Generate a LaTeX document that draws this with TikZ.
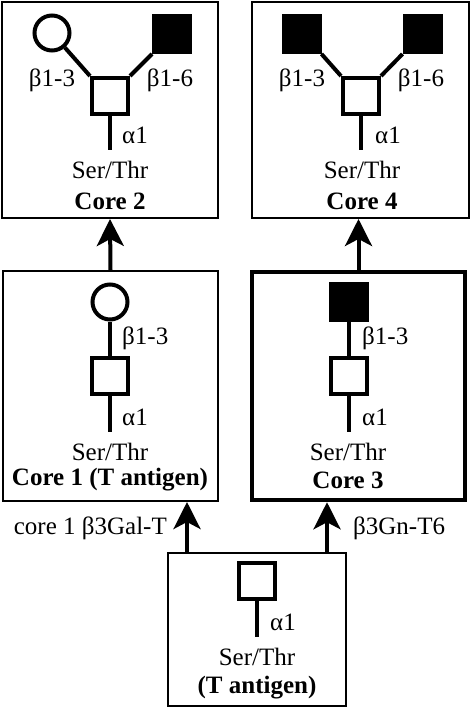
\documentclass[tikz,border=0pt]{standalone}
\usepackage{fontspec}
\setmainfont{Liberation Serif}
\usetikzlibrary{arrows.meta}
\begin{document}
\begin{tikzpicture}[x=1pt,y=-1pt,
    font=\fontsize{25}{30}\selectfont,
    corebox/.style={draw,line width=2pt,inner sep=0pt},
    gal/.style={circle,draw,line width=4pt,minimum size=35pt,inner sep=0pt},
    glcnac/.style={rectangle,draw,fill,line width=4pt,minimum size=36pt,inner sep=0pt},
    galnac/.style={rectangle,draw,line width=4pt,minimum size=36pt,inner sep=0pt},
    link/.style={line width=4pt},
    lbl/.style={inner sep=0pt},
    arr/.style={line width=4pt,-{Stealth[length=27pt,width=27pt,inset=7pt]}}]
      \useasboundingbox (0,0) rectangle (471,708);
      \node[corebox,minimum width=216pt,minimum height=216pt] (core2) at (110,110) {};
      \node[corebox,minimum width=217pt,minimum height=216pt] (core4) at (360.5,110) {};
      \node[corebox,minimum width=215pt,minimum height=230pt] (core1) at (110.5,386) {};
      \node[corebox,line width=4.5pt,minimum width=213pt,minimum height=228pt] (core3) at (358.5,386) {};
      \node[corebox,minimum width=178pt,minimum height=153pt] (tant) at (257,629.5) {};
      \node[gal] (c2gal) at (52,33) {};
      \node[glcnac] (c2glc) at (172,34) {};
      \node[galnac] (c2gn) at (110,96) {};
      \coordinate (c2end) at (110,150);
      \draw[link] (c2gal) -- (c2gn.north west);
      \draw[link] (c2glc.south west) -- (c2gn.north east);
      \draw[link] (c2gn.south) -- (c2end);
      \node[lbl] at (52,80) {β1-3};
      \node[lbl] at (170,80) {β1-6};
      \node[lbl,anchor=west] at (122,135) {α1};
      \node[lbl] at (110,170) {Ser/Thr};
      \node[lbl] at (110,201) {\bfseries Core 2};
      \node[glcnac] (c4glca) at (301.5,34) {};
      \node[glcnac] (c4glcb) at (422.5,34) {};
      \node[galnac] (c4gn) at (361,96) {};
      \coordinate (c4end) at (361,150);
      \draw[link] (c4glca.south east) -- (c4gn.north west);
      \draw[link] (c4glcb.south west) -- (c4gn.north east);
      \draw[link] (c4gn.south) -- (c4end);
      \node[lbl] at (302,80) {β1-3};
      \node[lbl] at (421,80) {β1-6};
      \node[lbl,anchor=west] at (375,135) {α1};
      \node[lbl] at (362,170) {Ser/Thr};
      \node[lbl] at (362,201) {\bfseries Core 4};
      \node[gal] (c1gal) at (110,302) {};
      \node[galnac] (c1gn) at (110,376) {};
      \coordinate (c1end) at (110,432);
      \draw[link] (c1gal) -- (c1gn);
      \draw[link] (c1gn.south) -- (c1end);
      \node[lbl,anchor=west] at (122,338) {β1-3};
      \node[lbl,anchor=west] at (122,417) {α1};
      \node[lbl] at (110,452) {Ser/Thr};
      \node[lbl] at (110,480) {\bfseries Core 1 (T antigen)};
      \node[glcnac] (c3glc) at (349,301.5) {};
      \node[galnac] (c3gn) at (349,376) {};
      \coordinate (c3end) at (349,432);
      \draw[link] (c3glc) -- (c3gn);
      \draw[link] (c3gn.south) -- (c3end);
      \node[lbl,anchor=west] at (362,338) {β1-3};
      \node[lbl,anchor=west] at (362,417) {α1};
      \node[lbl] at (348,452) {Ser/Thr};
      \node[lbl] at (348,480) {\bfseries Core 3};
      \node[galnac] (tgn) at (257,581) {};
      \coordinate (tend) at (257,637);
      \draw[link] (tgn.south) -- (tend);
      \node[lbl,anchor=west] at (270,622) {α1};
      \node[lbl] at (257,657) {Ser/Thr};
      \node[lbl] at (257,688) {\bfseries (T antigen)};
      \draw[arr] (core1.north) -- (core2.south);
      \draw[arr] (core3.north) -- (core3.north |- core4.south);
      \draw[arr] ([xshift=-70pt]tant.north) -- ([xshift=-70pt]tant.north |- core1.south);
      \draw[arr] ([xshift=70pt]tant.north) -- ([xshift=70pt]tant.north |- core3.south);
      \node[lbl,anchor=east] at (167,528) {core 1 β3Gal-T};
      \node[lbl,anchor=west] at (353,528) {β3Gn-T6};
    \end{tikzpicture}
\end{document}
